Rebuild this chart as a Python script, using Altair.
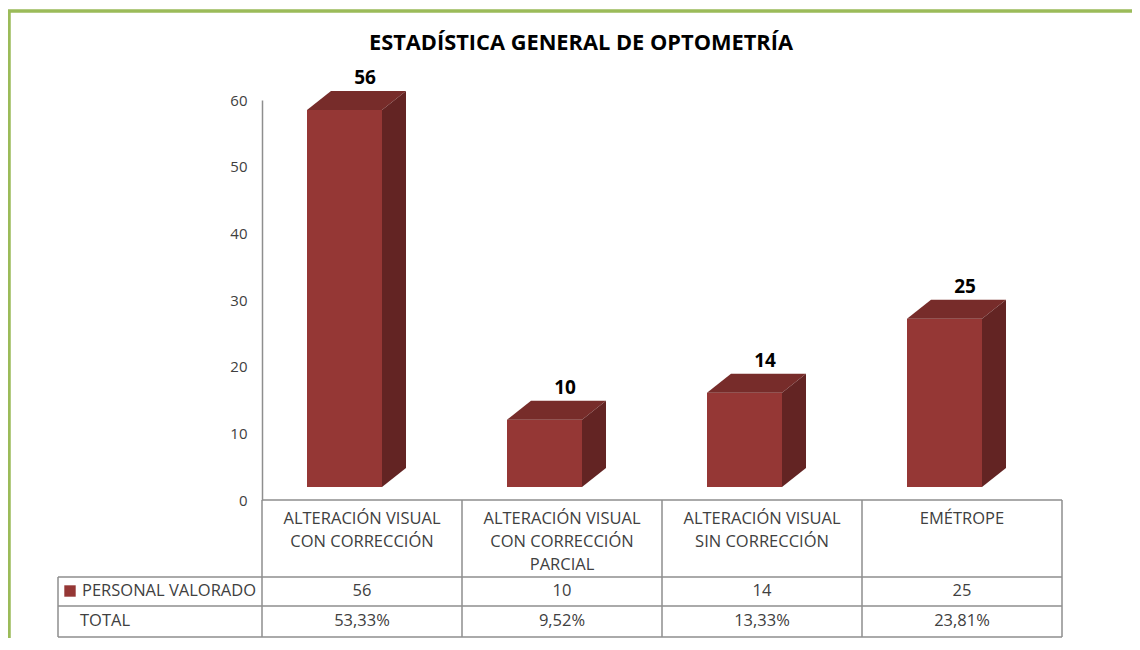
import altair as alt
import pandas as pd

# ---------------- data ----------------
title_text = "ESTADÍSTICA GENERAL DE OPTOMETRÍA"
category_lines = [
    ["ALTERACIÓN VISUAL", "CON CORRECCIÓN"],
    ["ALTERACIÓN VISUAL", "CON CORRECCIÓN", "PARCIAL"],
    ["ALTERACIÓN VISUAL", "SIN CORRECCIÓN"],
    ["EMÉTROPE"],
]
values = [56, 10, 14, 25]
totals = ["53,33%", "9,52%", "13,33%", "23,81%"]
series_name = "PERSONAL VALORADO"
total_name = "TOTAL"
y_ticks = [0, 10, 20, 30, 40, 50, 60]

# ---------------- style / geometry ----------------
FONT = "Open Sans"
FRONT = "#953735"
TOPC = "#772C2A"
SIDE = "#632423"
GRID = "#8E8E8E"
TXT = "#404040"
GREEN = "#9BBB59"
TBL_FS = 16.5

PX_PER_UNIT = 400 / 60.0
BASE = 13 / PX_PER_UNIT
PERSP = 1.01
FRONT_L, FRONT_R = -0.275, 0.10
DX = 0.12
DY = 19 / PX_PER_UNIT
TABLE_LEFT = -1.52
ROW_EDGES = [0, -77 / PX_PER_UNIT, -106 / PX_PER_UNIT, -137 / PX_PER_UNIT]
HDR_FIRST = -19 / PX_PER_UNIT
HDR_STEP = 23 / PX_PER_UNIT
ROW1_Y = -91 / PX_PER_UNIT
ROW2_Y = -121 / PX_PER_UNIT

X_SCALE = alt.Scale(domain=[-0.5, 3.5], nice=False, zero=False)
Y_SCALE = alt.Scale(domain=[0, 60], nice=False, zero=False)
Y_AXIS = alt.Axis(values=y_ticks, ticks=False, tickSize=0, grid=False,
                  labelPadding=15, labelFont=FONT, labelFontSize=15,
                  labelColor=TXT, domainColor=GRID, domainWidth=1.5,
                  title=None)


def X(f, **kw):
    return alt.X(f, type="quantitative", scale=X_SCALE, axis=None, **kw)


def Y(f, **kw):
    return alt.Y(f, type="quantitative", scale=Y_SCALE, axis=Y_AXIS, **kw)


n = len(values)
x0s = [i + FRONT_L for i in range(n)]
x1s = [i + FRONT_R for i in range(n)]
tops = [BASE + v * PERSP for v in values]
bars = pd.DataFrame({"k": list(range(n)), "x0": x0s, "x1": x1s,
                     "base": [BASE] * n, "top": tops})

top_rows, side_rows = [], []
for i in range(n):
    top_rows.append({"k": i, "yy": tops[i], "xa": x0s[i], "xb": x1s[i]})
    top_rows.append({"k": i, "yy": tops[i] + DY, "xa": x0s[i] + DX, "xb": x1s[i] + DX})
    side_rows.append({"k": i, "xx": x1s[i], "ya": tops[i], "yb": BASE})
    side_rows.append({"k": i, "xx": x1s[i] + DX, "ya": tops[i] + DY, "yb": BASE + DY})
top_df = pd.DataFrame(top_rows)
side_df = pd.DataFrame(side_rows)

labels_df = pd.DataFrame({
    "x": [i + 0.015 for i in range(n)],
    "y": [t + DY for t in tops],
    "t": [str(v) for v in values],
})

hdr_rows = []
for i, lines in enumerate(category_lines):
    for j, ln in enumerate(lines):
        hdr_rows.append({"x": i, "y": HDR_FIRST - HDR_STEP * j, "t": ln})
hdr_df = pd.DataFrame(hdr_rows)

vals_df = pd.DataFrame(
    [{"x": i, "y": ROW1_Y, "t": str(v)} for i, v in enumerate(values)]
    + [{"x": i, "y": ROW2_Y, "t": t} for i, t in enumerate(totals)]
)

rowlab_df = pd.DataFrame([
    {"x": -1.40, "y": ROW1_Y, "t": series_name},
    {"x": -1.41, "y": ROW2_Y, "t": total_name},
])
swatch_df = pd.DataFrame([{"x": -1.46, "y": ROW1_Y, "s": series_name}])

col_edges = [-0.5 + k for k in range(n + 1)]
grid_rows = []
grid_rows.append({"x": -0.5, "x2": 3.5, "y": ROW_EDGES[0], "y2": ROW_EDGES[0]})
for ry in ROW_EDGES[1:]:
    grid_rows.append({"x": TABLE_LEFT, "x2": 3.5, "y": ry, "y2": ry})
for cx in col_edges:
    grid_rows.append({"x": cx, "x2": cx, "y": ROW_EDGES[0], "y2": ROW_EDGES[-1]})
grid_rows.append({"x": TABLE_LEFT, "x2": TABLE_LEFT, "y": ROW_EDGES[1], "y2": ROW_EDGES[-1]})
grid_df = pd.DataFrame(grid_rows)

dummy = pd.DataFrame({"d": [0]})

# ---------------- layers ----------------
border = alt.Chart(dummy).mark_rect(
    fill="transparent", stroke=GREEN, strokeWidth=3.5
).encode(x=alt.value(-253), x2=alt.value(900), y=alt.value(-89), y2=alt.value(570))

title = alt.Chart(dummy).mark_text(
    text=title_text, font=FONT, fontSize=21.8, fontWeight="bold", color="#000000",
    align="center", baseline="middle"
).encode(x=alt.value(319), y=alt.value(-57))

grid = alt.Chart(grid_df).mark_rule(color=GRID, strokeWidth=1.5).encode(
    x=X("x"), x2=alt.X2("x2"), y=Y("y"), y2=alt.Y2("y2")
)

front = alt.Chart(bars).mark_rect(color=FRONT).encode(
    x=X("x0"), x2=alt.X2("x1"), y=Y("base"), y2=alt.Y2("top"),
)

topface = alt.Chart(top_df).mark_area(orient="horizontal", color=TOPC).encode(
    y=Y("yy"), x=X("xa", stack=False), x2=alt.X2("xb"), detail="k:N"
)

sideface = alt.Chart(side_df).mark_area(orient="vertical", color=SIDE).encode(
    x=X("xx"), y=Y("ya", stack=False), y2=alt.Y2("yb"), detail="k:N"
)

vlabels = alt.Chart(labels_df).mark_text(
    font=FONT, fontSize=19, fontWeight="bold", color="#000000",
    align="center", baseline="bottom", dy=-3
).encode(x=X("x"), y=Y("y"), text="t:N")

hdr = alt.Chart(hdr_df).mark_text(
    font=FONT, fontSize=TBL_FS, color=TXT, align="center", baseline="middle"
).encode(x=X("x"), y=Y("y"), text="t:N")

vals = alt.Chart(vals_df).mark_text(
    font=FONT, fontSize=TBL_FS, color=TXT, align="center", baseline="middle"
).encode(x=X("x"), y=Y("y"), text="t:N")

rowlab = alt.Chart(rowlab_df).mark_text(
    font=FONT, fontSize=TBL_FS, color=TXT, align="left", baseline="middle"
).encode(x=X("x"), y=Y("y"), text="t:N")

swatch = alt.Chart(swatch_df).mark_point(
    shape="square", filled=True, size=130, color=FRONT, opacity=1
).encode(x=X("x"), y=Y("y"))

chart = alt.layer(
    border, title, grid, front, topface, sideface, vlabels, hdr, vals, rowlab, swatch
).properties(
    width=800, height=400,
    autosize=alt.AutoSizeParams(type="none"),
    padding={"left": 254, "top": 92, "right": 70, "bottom": 138},
    background="white",
).configure_view(stroke="transparent")

chart.save("out.html", embed_options={"renderer": "svg", "actions": False})
